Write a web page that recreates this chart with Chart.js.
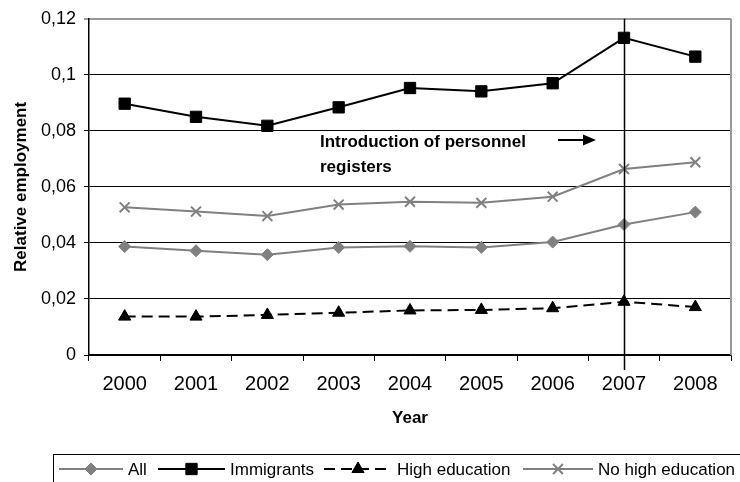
<!DOCTYPE html>
<html>
<head>
<meta charset="utf-8">
<script src="https://cdn.jsdelivr.net/npm/chart.js@4/dist/chart.umd.min.js"></script>
<style>
  body { margin: 0; background: #fff; }
  canvas { display: block; }
</style>
</head>
<body>
<canvas id="employmentChart" width="740" height="482"></canvas>
<script>
const years = ['2000', '2001', '2002', '2003', '2004', '2005', '2006', '2007', '2008'];
const allValues = [0.0387, 0.0372, 0.0358, 0.0384, 0.0388, 0.0384, 0.0403, 0.0466, 0.0510];
const immigrants = [0.0897, 0.0850, 0.0818, 0.0884, 0.0953, 0.0941, 0.0970, 0.1132, 0.1065];
const highEducation = [0.0137, 0.0137, 0.0143, 0.0151, 0.0159, 0.0161, 0.0167, 0.0190, 0.0171];
const noHighEducation = [0.0527, 0.0512, 0.0496, 0.0537, 0.0547, 0.0543, 0.0565, 0.0664, 0.0688];
const markerYear = '2007';
const noteLines = ['Introduction of personnel', 'registers'];

const FONT = "'Liberation Sans', Arial, sans-serif";
const GREY = '#808080';

// extra drawing: 2007 line, frame, note + arrow, boxed legend
const extras = {
  id: 'extras',
  afterDatasetsDraw(chart) {
    const { ctx, chartArea, scales } = chart;
    ctx.save();

    // right frame
    ctx.strokeStyle = '#999';
    ctx.lineWidth = 2;
    ctx.beginPath();
    ctx.moveTo(chartArea.right, chartArea.top);
    ctx.lineTo(chartArea.right, chartArea.bottom);
    ctx.stroke();

    // vertical line at 2007
    const x = Math.round(scales.x.getPixelForValue(years.indexOf(markerYear))) + 0.5;
    ctx.strokeStyle = '#000';
    ctx.lineWidth = 1.5;
    ctx.beginPath();
    ctx.moveTo(x, chartArea.top);
    ctx.lineTo(x, chartArea.bottom + 15);
    ctx.stroke();

    // note text
    ctx.fillStyle = '#000';
    ctx.font = 'bold 17px ' + FONT;
    ctx.textAlign = 'left';
    ctx.textBaseline = 'alphabetic';
    ctx.fillText(noteLines[0], 320, 147);
    ctx.fillText(noteLines[1], 320, 172);

    // arrow
    ctx.lineWidth = 2;
    ctx.beginPath();
    ctx.moveTo(558, 140);
    ctx.lineTo(584, 140);
    ctx.stroke();
    ctx.beginPath();
    ctx.moveTo(596, 140);
    ctx.lineTo(583, 134.5);
    ctx.lineTo(583, 145.5);
    ctx.closePath();
    ctx.fill();

    // legend
    ctx.strokeStyle = '#000';
    ctx.lineWidth = 1;
    ctx.strokeRect(53.5, 454.5, 700, 40);
    const starts = [59, 158, 324, 523];
    const lengths = [64, 67, 68, 70];
    const ly = 469;
    ctx.font = '17px ' + FONT;
    ctx.textBaseline = 'middle';
    chart.data.datasets.forEach((ds, i) => {
      const sx = starts[i];
      ctx.strokeStyle = ds.borderColor;
      ctx.fillStyle = ds.backgroundColor;
      ctx.lineWidth = ds.borderWidth;
      ctx.setLineDash(ds.borderDash || []);
      ctx.beginPath();
      ctx.moveTo(sx, ly);
      ctx.lineTo(sx + lengths[i], ly);
      ctx.stroke();
      ctx.setLineDash([]);
      ctx.lineWidth = ds.pointBorderWidth;
      Chart.helpers.drawPoint(ctx, {
        pointStyle: ds.pointStyle,
        radius: ds.pointRadius,
        rotation: 0,
        borderWidth: ds.pointBorderWidth
      }, sx + lengths[i] / 2, ly);
      ctx.fillStyle = '#000';
      ctx.fillText(ds.label, sx + lengths[i] + 5, ly + 1);
    });

    ctx.restore();
  }
};

const ctx = document.getElementById('employmentChart');
new Chart(ctx, {
  type: 'line',
  data: {
    labels: years,
    datasets: [
      {
        label: 'All',
        data: allValues,
        borderColor: GREY,
        backgroundColor: GREY,
        borderWidth: 2,
        pointStyle: 'rectRot',
        pointRadius: 6,
        pointBorderWidth: 1
      },
      {
        label: 'Immigrants',
        data: immigrants,
        borderColor: '#000',
        backgroundColor: '#000',
        borderWidth: 2,
        pointStyle: 'rect',
        pointRadius: 8,
        pointBorderWidth: 1
      },
      {
        label: 'High education',
        data: highEducation,
        borderColor: '#000',
        backgroundColor: '#000',
        borderWidth: 2,
        borderDash: [11, 6],
        pointStyle: 'triangle',
        pointRadius: 7,
        pointBorderWidth: 1
      },
      {
        label: 'No high education',
        data: noHighEducation,
        borderColor: GREY,
        backgroundColor: GREY,
        borderWidth: 2,
        pointStyle: 'crossRot',
        pointRadius: 7,
        pointBorderWidth: 2
      }
    ]
  },
  options: {
    responsive: false,
    animation: false,
    layout: { padding: { top: 15, right: 9, left: 0, bottom: 53 } },
    plugins: {
      legend: { display: false },
      tooltip: { enabled: false }
    },
    elements: { line: { tension: 0 } },
    scales: {
      x: {
        offset: true,
        grid: {
          offset: true,
          drawOnChartArea: false,
          tickLength: 6,
          color: '#000'
        },
        border: { color: '#000', width: 1.5 },
        ticks: {
          color: '#000',
          padding: 11,
          font: { family: FONT, size: 20 }
        },
        title: {
          display: true,
          text: 'Year',
          color: '#000',
          padding: 0,
          font: { family: FONT, size: 17, weight: 'bold' }
        },
        afterFit(scale) { scale.height = 74; }
      },
      y: {
        min: 0,
        max: 0.12,
        grid: {
          tickLength: 5,
          color: (c) => (c.tick && c.tick.value >= 0.119 ? '#999' : '#000'),
          lineWidth: (c) => (c.tick && c.tick.value >= 0.119 ? 2 : 1)
        },
        border: { color: '#000', width: 1.5 },
        ticks: {
          stepSize: 0.02,
          color: '#000',
          padding: 8,
          font: { family: FONT, size: 18 },
          callback: (v) => (v === 0 ? '0' : String(+v.toFixed(2)).replace('.', ','))
        },
        title: {
          display: true,
          text: 'Relative employment',
          color: '#000',
          padding: { top: 11, bottom: 0 },
          font: { family: FONT, size: 17, weight: 'bold' }
        },
        afterFit(scale) { scale.width = 89; }
      }
    }
  },
  plugins: [extras]
});
</script>
</body>
</html>
